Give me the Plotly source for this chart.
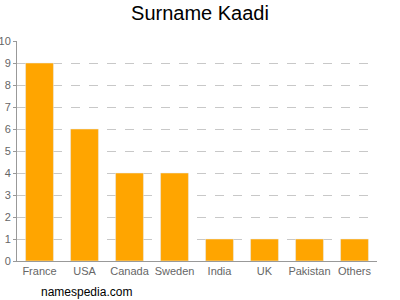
import plotly.graph_objects as go

countries = ["France", "USA", "Canada", "Sweden", "India", "UK", "Pakistan", "Others"]
counts = [9, 6, 4, 4, 1, 1, 1, 1]
y_ticks = list(range(0, 11))

fig = go.Figure(go.Bar(x=countries, y=counts, marker_color="#FFA500", width=0.62))
fig.update_layout(
    width=400, height=300,
    margin=dict(l=17, r=23, t=41, b=39, autoexpand=False),
    paper_bgcolor="white", plot_bgcolor="white",
    font=dict(family="Liberation Sans, Arial, sans-serif", size=11, color="#666"),
    title=dict(text="Surname Kaadi", x=0.5, xanchor="center", y=0.98, yanchor="top",
               font=dict(size=20, color="#000")),
    showlegend=False,
)
fig.update_xaxes(showline=True, linecolor="#999", linewidth=1, ticks="", automargin=False,
                 tickfont=dict(size=11, color="#666"))
fig.update_yaxes(range=[0, 10], tickvals=y_ticks, showgrid=True, gridcolor="#c8c8c8", griddash="dash",
                 showline=True, linecolor="#999", linewidth=1, ticks="outside", ticklen=3, tickcolor="#999",
                 tickfont=dict(size=11, color="#666"), zeroline=False, automargin=False, ticklabelstandoff=0)
fig.add_annotation(text="namespedia.com", xref="paper", yref="paper", x=0.06, y=-0.1,
                   xanchor="left", yanchor="top", showarrow=False, font=dict(size=12, color="#000"))
fig.write_html("out.html")
